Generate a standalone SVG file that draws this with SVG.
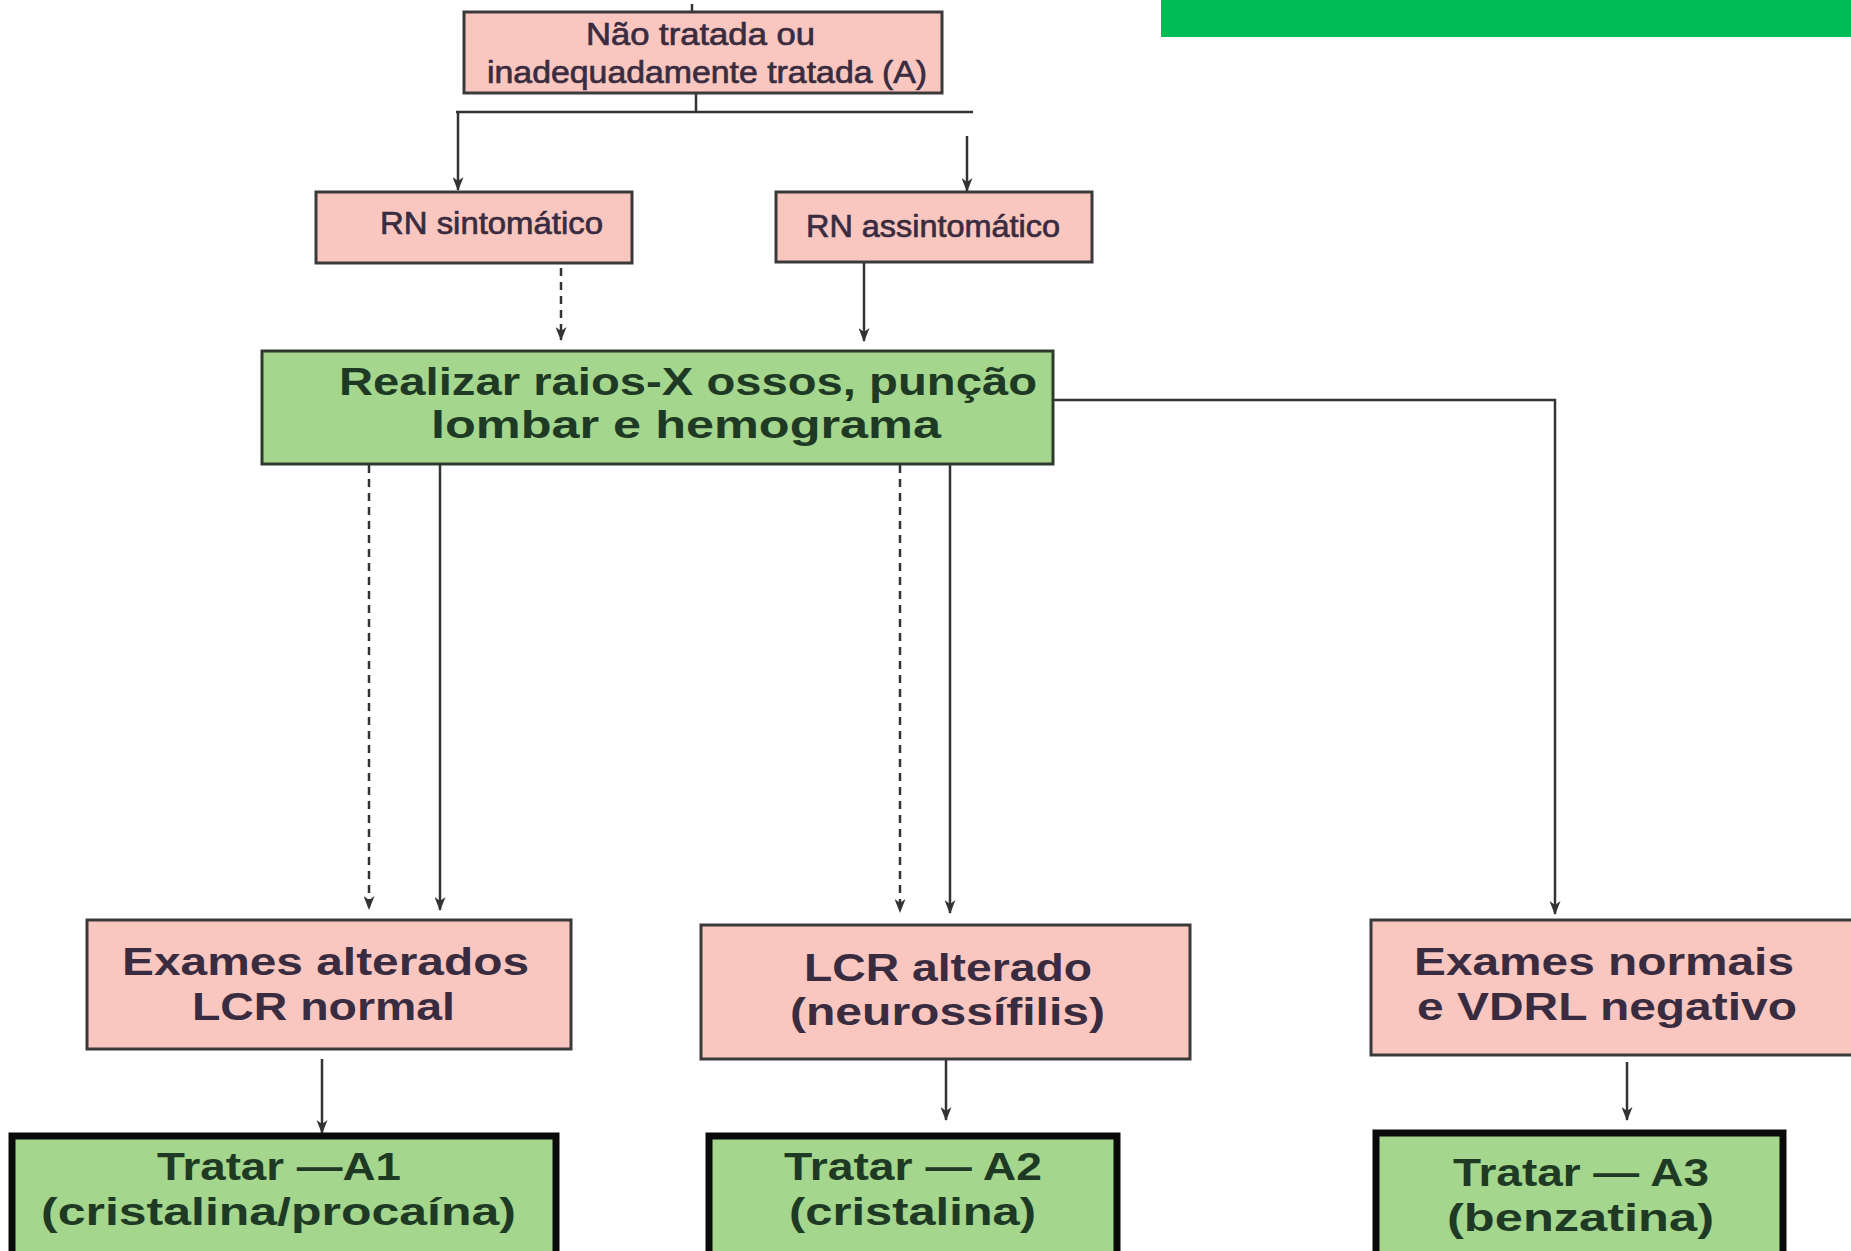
<svg xmlns="http://www.w3.org/2000/svg" width="1851" height="1251" viewBox="0 0 1851 1251">
  <style>
    .pink { fill: #F9C7BF; stroke: #3a3a3a; stroke-width: 3; }
    .green { fill: #A4D68D; stroke: #2e3a2e; stroke-width: 3; }
    .treat { fill: #A4D68D; stroke: #0a0a0a; stroke-width: 7; }
    .t-small { font-family: "Liberation Sans", Arial, sans-serif; font-weight: 400; font-size: 31px; fill: #3a2c40; stroke: #3a2c40; stroke-width: 0.7; }
    .t-pink { font-family: "Liberation Sans", Arial, sans-serif; font-weight: 700; font-size: 38px; fill: #3a2c40; }
    .t-green { font-family: "Liberation Sans", Arial, sans-serif; font-weight: 700; font-size: 38px; fill: #1f3a24; }
    .line { fill: none; stroke: #333; stroke-width: 2.5; }
    .dash { fill: none; stroke: #333; stroke-width: 2.5; stroke-dasharray: 8 6; }
  </style>
  <defs>
    <marker id="arrow" viewBox="0 0 14 11" refX="13" refY="5.5" markerWidth="14" markerHeight="11" markerUnits="userSpaceOnUse" orient="auto">
      <path d="M0,0 L14,5.5 L0,11 L4,5.5 Z" fill="#333"/>
    </marker>
  </defs>

  <rect width="1851" height="1251" fill="#ffffff"/>

  <!-- green band, top right -->
  <rect x="1161" y="0" width="690" height="37" fill="#00BC55"/>

  <!-- connectors -->
  <g id="connectors">
    <path class="line" d="M692,4 V12"/>
    <path class="line" d="M696,93 V112 M456,112 H973"/>
    <path class="line" d="M458,112 V190" marker-end="url(#arrow)"/>
    <path class="line" d="M967,136 V191" marker-end="url(#arrow)"/>
    <path class="dash" d="M561,268 V340" marker-end="url(#arrow)"/>
    <path class="line" d="M864,263 V341" marker-end="url(#arrow)"/>
    <path class="dash" d="M369,465 V909" marker-end="url(#arrow)"/>
    <path class="line" d="M440,465 V910" marker-end="url(#arrow)"/>
    <path class="dash" d="M900,465 V912" marker-end="url(#arrow)"/>
    <path class="line" d="M950,465 V913" marker-end="url(#arrow)"/>
    <path class="line" d="M1054,400 H1555 V914" marker-end="url(#arrow)"/>
    <path class="line" d="M322,1059 V1133" marker-end="url(#arrow)"/>
    <path class="line" d="M946,1060 V1120" marker-end="url(#arrow)"/>
    <path class="line" d="M1627,1062 V1120" marker-end="url(#arrow)"/>
  </g>

  <g id="node-nao-tratada">
    <rect class="pink" x="464" y="12" width="478" height="81"/>
    <text class="t-small" x="586" y="45" textLength="229" lengthAdjust="spacingAndGlyphs">Não tratada ou</text>
    <text class="t-small" x="487" y="83" textLength="440" lengthAdjust="spacingAndGlyphs">inadequadamente tratada (A)</text>
  </g>

  <g id="node-rn-sintomatico">
    <rect class="pink" x="316" y="192" width="316" height="71"/>
    <text class="t-small" x="380" y="234" textLength="223" lengthAdjust="spacingAndGlyphs">RN sintomático</text>
  </g>

  <g id="node-rn-assintomatico">
    <rect class="pink" x="776" y="192" width="316" height="70"/>
    <text class="t-small" x="806" y="237" textLength="254" lengthAdjust="spacingAndGlyphs">RN assintomático</text>
  </g>

  <g id="node-realizar">
    <rect class="green" x="262" y="351" width="791" height="113"/>
    <text class="t-green" x="339" y="395" textLength="698" lengthAdjust="spacingAndGlyphs">Realizar raios-X ossos, punção</text>
    <text class="t-green" x="431" y="438" textLength="510" lengthAdjust="spacingAndGlyphs">lombar e hemograma</text>
  </g>

  <g id="node-exames-alterados">
    <rect class="pink" x="87" y="920" width="484" height="129"/>
    <text class="t-pink" x="122" y="975" textLength="407" lengthAdjust="spacingAndGlyphs">Exames alterados</text>
    <text class="t-pink" x="192" y="1020" textLength="263" lengthAdjust="spacingAndGlyphs">LCR normal</text>
  </g>

  <g id="node-lcr-alterado">
    <rect class="pink" x="701" y="925" width="489" height="134"/>
    <text class="t-pink" x="804" y="981" textLength="288" lengthAdjust="spacingAndGlyphs">LCR alterado</text>
    <text class="t-pink" x="790" y="1025" textLength="315" lengthAdjust="spacingAndGlyphs">(neurossífilis)</text>
  </g>

  <g id="node-exames-normais">
    <rect class="pink" x="1371" y="920" width="482" height="135"/>
    <text class="t-pink" x="1414" y="975" textLength="380" lengthAdjust="spacingAndGlyphs">Exames normais</text>
    <text class="t-pink" x="1417" y="1020" textLength="380" lengthAdjust="spacingAndGlyphs">e VDRL negativo</text>
  </g>

  <g id="node-tratar-a1">
    <rect class="treat" x="12" y="1136" width="544" height="130"/>
    <text class="t-green" x="157" y="1180" textLength="244" lengthAdjust="spacingAndGlyphs">Tratar —A1</text>
    <text class="t-green" x="41" y="1225" textLength="475" lengthAdjust="spacingAndGlyphs">(cristalina/procaína)</text>
  </g>

  <g id="node-tratar-a2">
    <rect class="treat" x="709" y="1136" width="408" height="130"/>
    <text class="t-green" x="784" y="1180" textLength="258" lengthAdjust="spacingAndGlyphs">Tratar — A2</text>
    <text class="t-green" x="789" y="1225" textLength="247" lengthAdjust="spacingAndGlyphs">(cristalina)</text>
  </g>

  <g id="node-tratar-a3">
    <rect class="treat" x="1376" y="1133" width="407" height="130"/>
    <text class="t-green" x="1453" y="1186" textLength="256" lengthAdjust="spacingAndGlyphs">Tratar — A3</text>
    <text class="t-green" x="1447" y="1231" textLength="267" lengthAdjust="spacingAndGlyphs">(benzatina)</text>
  </g>
</svg>
